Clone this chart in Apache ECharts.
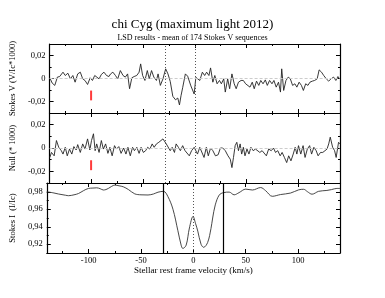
<!DOCTYPE html>
<html><head><meta charset="utf-8">
<script src="https://cdn.jsdelivr.net/npm/echarts@6/dist/echarts.min.js"></script>
<style>html,body{margin:0;padding:0;background:#fff}#c{width:385px;height:298px}</style>
</head><body><div id="c"></div>
<script>
// ---- data ----
const velV = [-139.8,-137.5,-135.0,-132.5,-130.3,-127.1,-124.9,-122.4,-119.9,-117.6,-115.4,-112.9,-110.4,-108.1,-105.9,-103.4,-100.9,-98.7,-96.5,-94.6,-92.3,-90.1,-87.6,-85.1,-82.8,-81.2,-79.0,-76.5,-74.3,-71.8,-69.2,-67.0,-64.8,-62.9,-60.7,-58.5,-56.0,-53.7,-52.2,-50.3,-48.1,-45.8,-43.9,-41.7,-39.5,-37.0,-35.4,-33.2,-30.7,-28.1,-25.9,-23.7,-21.2,-18.6,-16.4,-14.8,-13.3,-11.7,-9.1,-6.9,-3.8,-0.6,1.0,2.6,4.8,7.3,9.5,11.4,13.6,15.2,17.4,19.3,21.5,23.8,25.6,27.9,29.4,31.7,33.6,35.8,38.0,39.9,42.1,44.6,46.8,49.0,50.9,53.2,55.4,57.3,59.5,61.7,63.6,65.8,68.0,69.9,72.1,74.4,76.3,78.5,80.7,82.6,83.8,85.7,87.9,90.1,92.1,94.3,96.5,98.4,100.6,102.8,104.7,106.9,109.1,111.0,113.3,115.5,118.0,119.9,122.2,124.3,126.8,129.1,131.3,133.8,136.0,138.0,139.6];
const stokesV = [0.0006,-0.0040,-0.0060,0.0012,0.0017,0.0055,0.0026,0.0046,-0.0003,0.0026,-0.0032,0.0040,0.0055,-0.0003,-0.0017,-0.0052,0.0006,-0.0017,0.0026,0.0012,-0.0003,0.0035,0.0055,0.0026,0.0017,0.0040,0.0055,0.0026,-0.0003,0.0069,0.0026,0.0012,0.0040,-0.0089,0.0006,0.0017,0.0026,0.0055,0.0127,0.0026,-0.0017,0.0069,-0.0003,0.0069,0.0012,-0.0017,0.0040,-0.0060,-0.0003,0.0084,0.0040,-0.0025,-0.0155,-0.0185,-0.0170,-0.0230,-0.0150,-0.0080,0.0040,0.0020,-0.0064,-0.0135,0.0010,0.0026,-0.0017,0.0055,0.0026,0.0055,0.0026,0.0092,-0.0032,0.0026,-0.0046,-0.0017,-0.0046,-0.0003,-0.0118,-0.0003,-0.0089,0.0040,-0.0046,-0.0089,-0.0032,-0.0017,-0.0017,-0.0046,-0.0032,-0.0075,-0.0032,-0.0089,-0.0023,-0.0060,-0.0017,-0.0046,-0.0012,-0.0060,-0.0017,-0.0046,-0.0017,-0.0075,-0.0032,-0.0118,0.0084,-0.0104,-0.0017,0.0012,-0.0003,-0.0060,-0.0046,-0.0075,-0.0032,-0.0060,-0.0104,-0.0046,-0.0060,-0.0032,-0.0023,-0.0017,-0.0003,0.0075,0.0055,0.0026,-0.0003,-0.0023,-0.0003,0.0012,-0.0017,0.0017,-0.0003];

const velN = [-139.8,-138.2,-135.6,-133.4,-131.2,-128.7,-127.1,-124.9,-123.0,-120.8,-118.6,-116.6,-114.4,-112.9,-110.4,-108.1,-105.9,-103.4,-101.2,-99.6,-97.7,-96.1,-94.6,-92.3,-90.1,-88.2,-86.0,-83.8,-81.9,-79.7,-77.4,-75.6,-73.3,-71.1,-68.6,-66.4,-64.5,-62.2,-60.0,-58.2,-55.9,-53.7,-51.8,-49.6,-47.4,-45.5,-43.3,-41.1,-39.2,-37.0,-34.7,-32.9,-30.7,-29.1,-27.5,-25.9,-23.7,-21.8,-19.6,-18.0,-15.8,-13.9,-11.7,-9.4,-7.6,-5.3,-3.1,-0.6,1.0,2.6,4.8,6.7,8.9,11.1,13.0,15.2,17.4,19.9,22.5,24.7,26.9,29.4,32.0,34.2,35.8,37.3,38.9,40.5,42.1,43.7,45.2,46.8,48.4,50.3,52.2,54.1,56.3,58.5,60.4,62.7,64.9,66.8,69.0,71.2,73.7,75.9,77.8,80.0,82.3,84.2,86.4,88.6,90.5,92.7,94.9,96.8,98.4,100.0,102.2,104.4,106.3,108.5,110.7,112.6,114.8,117.0,118.9,121.2,123.4,125.3,127.5,129.1,130.6,132.9,134.8,136.3,138.6,140.0];
const nullN = [-0.0081,-0.0038,-0.0067,0.0064,0.0006,-0.0023,-0.0052,0.0006,-0.0067,-0.0009,-0.0052,0.0012,-0.0017,0.0029,-0.0038,0.0035,-0.0009,0.0078,-0.0017,0.0064,0.0122,-0.0023,0.0035,-0.0038,0.0064,-0.0009,0.0035,-0.0046,0.0006,-0.0067,0.0020,-0.0009,0.0012,-0.0046,0.0000,-0.0052,0.0006,-0.0067,0.0006,-0.0023,0.0006,-0.0046,0.0006,-0.0038,-0.0023,0.0006,-0.0009,0.0035,0.0006,0.0035,0.0049,0.0064,0.0078,0.0093,0.0035,0.0049,-0.0023,0.0006,-0.0038,0.0035,0.0006,-0.0023,0.0020,-0.0023,-0.0009,-0.0067,-0.0023,0.0006,0.0020,-0.0052,0.0006,-0.0009,-0.0081,0.0006,-0.0067,0.0000,-0.0023,-0.0067,-0.0058,0.0000,0.0000,-0.0023,-0.0067,-0.0096,-0.0168,-0.0081,0.0020,0.0049,-0.0023,0.0035,-0.0052,0.0006,-0.0067,-0.0009,-0.0052,0.0006,-0.0023,-0.0009,0.0006,-0.0038,-0.0023,-0.0009,-0.0067,-0.0009,-0.0023,0.0000,-0.0038,-0.0023,-0.0067,-0.0038,-0.0081,-0.0125,-0.0067,-0.0110,-0.0052,0.0006,-0.0052,0.0020,-0.0052,0.0020,-0.0081,-0.0009,0.0020,-0.0052,0.0006,-0.0023,-0.0067,-0.0038,-0.0038,-0.0038,-0.0009,0.0035,0.0093,0.0006,-0.0023,-0.0081,0.0049,0.0035];

const velI = [-140,-134,-128.7,-122,-119.2,-114,-109.7,-105,-100.2,-96,-92.3,-89,-86,-83.5,-81.2,-78,-75,-71,-67,-62,-56,-50,-43.3,-38,-33.8,-28.5,-24.3,-19.5,-14.8,-11.7,-10.1,-6.9,-3.8,-0.3,2,4.2,7.3,9.8,13.6,16.8,18.4,20.9,24.7,28.8,34.2,38.9,43.6,50,56.4,64.2,69,75.3,83.2,92.7,100.6,105.3,109,113.3,119.6,127.5,132,137,140];
const stokesI = [0.9800,0.9788,0.9774,0.9760,0.9755,0.9765,0.9780,0.9812,0.9838,0.9842,0.9845,0.9835,0.9820,0.9825,0.9838,0.9862,0.9876,0.9868,0.9857,0.9825,0.9776,0.9765,0.9763,0.9775,0.9795,0.9805,0.9744,0.9600,0.9355,0.9190,0.9152,0.9190,0.9386,0.9518,0.9440,0.9350,0.9200,0.9165,0.9220,0.9380,0.9500,0.9650,0.9763,0.9790,0.9796,0.9765,0.9790,0.9830,0.9820,0.9848,0.9812,0.9748,0.9768,0.9785,0.9822,0.9828,0.9800,0.9772,0.9805,0.9815,0.9825,0.9838,0.9838];

const xMajor = [-100,-50,0,50,100];
const xMinor = [-125,-75,-25,25,75,125];
const vyMajor = [-0.02,0,0.02];
const vyMinor = [-0.01,0.01];
const iyMajor = [0.92,0.94,0.96,0.98];
const iyMinor = [0.93,0.95,0.97];
const refDotted = [-28.5, 0];
const refSolidI = [-28.5, 28.8];
const errVel = -100;
const errBar = [-0.0105,-0.019];

const titleText = 'chi Cyg (maximum light 2012)';
const subText = 'LSD results - mean of 174 Stokes V sequences';
const yNames = ['Stokes V (V/Ic*1000)', 'Null (* 1000)', 'Stokes I  (I/Ic)'];
const xName = 'Stellar rest frame velocity (km/s)';

// ---- chart ----
const FONT = 'Liberation Serif';
const fmt = v => v === 0 ? '0' : String(v).replace('.', ',');
const grids = [
  {left:44, right:45, top:44, height:69},
  {left:44, right:45, top:113, height:70},
  {left:44, right:45, top:183, height:70}
];
const xAxis = [], yAxis = [];
function tick(vals, len){return {show:true, inside:true, length:len, customValues:vals, lineStyle:{color:'#000', width:1}};}
grids.forEach((g, gi) => {
  const xb = {type:'value', gridIndex:gi, min:-140, max:140, splitLine:{show:false}};
  ['bottom','top'].forEach(pos => {
    const isLabeled = (pos === 'bottom' && gi === 2);
    xAxis.push(Object.assign({}, xb, {position:pos,
      axisLine:{show:true, onZero:false, lineStyle:{color:'#000', width:1.2}},
      axisTick:tick(xMajor, 4),
      axisLabel: isLabeled ? {show:true, customValues:xMajor, formatter:fmt, fontFamily:FONT, fontSize:8.5, color:'#000', margin:3} : {show:false},
      name: isLabeled ? xName : '', nameLocation:'middle', nameGap:11,
      nameTextStyle:{fontFamily:FONT, fontSize:9, color:'#000'}
    }));
    xAxis.push(Object.assign({}, xb, {position:pos, axisLine:{show:false, onZero:false}, axisTick:tick(xMinor, 2), axisLabel:{show:false}}));
  });
  const isI = gi === 2;
  const yb = {type:'value', gridIndex:gi, min: isI ? 0.91 : -0.03, max: isI ? 0.99 : 0.03, splitLine:{show:false}};
  const maj = isI ? iyMajor : vyMajor, mnr = isI ? iyMinor : vyMinor;
  ['left','right'].forEach(pos => {
    yAxis.push(Object.assign({}, yb, {position:pos,
      axisLine:{show:true, onZero:false, lineStyle:{color:'#000', width:1.2}},
      axisTick:tick(maj, 4),
      axisLabel: pos === 'left' ? {show:true, customValues:maj, formatter:fmt, fontFamily:FONT, fontSize:8.5, color:'#000', margin:4} : {show:false},
      name: pos === 'left' ? yNames[gi] : '', nameLocation:'middle', nameGap:23,
      nameTextStyle:{fontFamily:FONT, fontSize:8.5, color:'#000'}
    }));
    yAxis.push(Object.assign({}, yb, {position:pos, axisLine:{show:false, onZero:false}, axisTick:tick(mnr, 2), axisLabel:{show:false}}));
  });
});
const zip = (a, b) => a.map((v, i) => [v, b[i]]);
const dotted = {color:'#555', type:[1,2], width:1};
function vSeries(gi, vel, vals){
  return {type:'line', xAxisIndex:gi*4, yAxisIndex:gi*4, data:zip(vel, vals), showSymbol:false, symbol:'none',
    lineStyle:{color:'#222', width:0.9}, z:3, animation:false,
    markLine:{silent:true, symbol:'none', label:{show:false}, animation:false,
      data:[{yAxis:0, lineStyle:{color:'#ccc', type:[3,2], width:1}}].concat(refDotted.map(x => ({xAxis:x, lineStyle:dotted})))}};
}
function errSeries(gi){
  return {type:'line', xAxisIndex:gi*4, yAxisIndex:gi*4, data:errBar.map(v => [errVel, v]), symbol:'none',
    lineStyle:{color:'#ff3b3b', width:2}, animation:false, z:4};
}
const series = [
  vSeries(0, velV, stokesV), errSeries(0),
  vSeries(1, velN, nullN), errSeries(1),
  {type:'line', xAxisIndex:8, yAxisIndex:8, data:zip(velI, stokesI), symbol:'none', smooth:0.35,
    lineStyle:{color:'#333', width:0.9}, animation:false,
    markLine:{silent:true, symbol:'none', label:{show:false}, animation:false,
      data:refSolidI.map(x => ({xAxis:x, lineStyle:{color:'#000', type:'solid', width:1.2}}))
        .concat([{xAxis:0, lineStyle:dotted}])}}
];
const chart = echarts.init(document.getElementById('c'), null, {renderer:'canvas'});
chart.setOption({
  animation:false,
  backgroundColor:'#fff',
  title:{text:titleText, subtext:subText, left:'center', top:13, itemGap:3,
    textStyle:{fontFamily:FONT, fontSize:13, fontWeight:'normal', color:'#000'},
    subtextStyle:{fontFamily:FONT, fontSize:8, color:'#000'}},
  grid:grids, xAxis:xAxis, yAxis:yAxis, series:series
});
</script></body></html>
